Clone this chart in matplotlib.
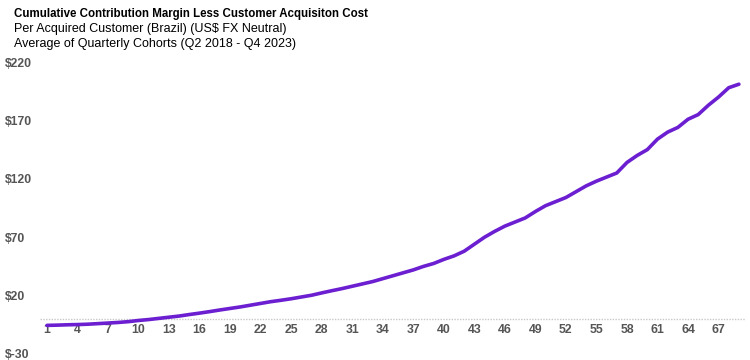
import numpy as np
import matplotlib
matplotlib.use("Agg")
import matplotlib.pyplot as plt

plt.rcParams['font.family'] = ['Liberation Sans', 'DejaVu Sans']

# cohort month and cumulative CM less CAC (US$)
months = list(range(1, 70))
values = [-5.5, -5.3, -5.0, -4.8, -4.5, -4.0, -3.5, -3.0, -2.3, -1.3,
          -0.5, 0.5, 1.5, 2.5, 3.8, 5.0, 6.3, 7.7, 9.0, 10.3,
          11.8, 13.3, 14.8, 16.0, 17.3, 18.8, 20.3, 22.3, 24.2, 26.0,
          28.0, 30.0, 32.0, 34.5, 37.0, 39.5, 42.0, 45.0, 47.5, 51.0,
          54.0, 58.0, 64.0, 70.0, 75.0, 79.5, 83.0, 86.5, 92.0, 97.0,
          100.5, 104.0, 109.0, 114.0, 118.0, 121.5, 125.0, 134.0, 140.0, 145.0,
          154.0, 160.0, 164.0, 171.0, 175.0, 183.0, 190.0, 198.0, 201.0]
xticks = list(range(1, 70, 3))
yticks = [-30, 20, 70, 120, 170, 220]
ylabels = ["$" + str(v) for v in yticks]

fig = plt.figure(figsize=(7.5, 3.6), dpi=100)
ax = fig.add_axes([40/750, 0.0167, 705/750, 0.811])

# zero line
ax.axhline(0, color='#c8c8c8', lw=1, ls=(0, (1, 1)), zorder=1)
ax.plot(months, values, color='#6B1FD1', lw=2.6, solid_capstyle='round', zorder=3)

ax.set_xlim(0.31, 69.6)
ax.set_ylim(-30, 220)

for s in ax.spines.values():
    s.set_visible(False)

ax.spines['bottom'].set_position(('data', 0))
ax.set_xticks(xticks)
ax.set_xticklabels([str(t) for t in xticks])
ax.set_yticks(yticks)
ax.set_yticklabels(ylabels)
ax.tick_params(axis='x', length=0, pad=3.5, labelsize=8.8, labelcolor='#555555')
ax.tick_params(axis='y', length=0, pad=25, labelsize=8.8, labelcolor='#555555')
for lab in ax.get_xticklabels() + ax.get_yticklabels():
    lab.set_fontweight('bold')
for lab in ax.get_yticklabels():
    lab.set_horizontalalignment('left')

fig.text(14/750, 1 - 14/360, "Cumulative Contribution Margin Less Customer Acquisiton Cost",
         fontsize=8.3, fontweight='bold', va='center', ha='left')
fig.text(14/750, 1 - 29/360, "Per Acquired Customer (Brazil) (US$ FX Neutral)",
         fontsize=9, va='center', ha='left')
fig.text(14/750, 1 - 44/360, "Average of Quarterly Cohorts (Q2 2018 - Q4 2023)",
         fontsize=9, va='center', ha='left')

fig.savefig("out.png", dpi=100)
